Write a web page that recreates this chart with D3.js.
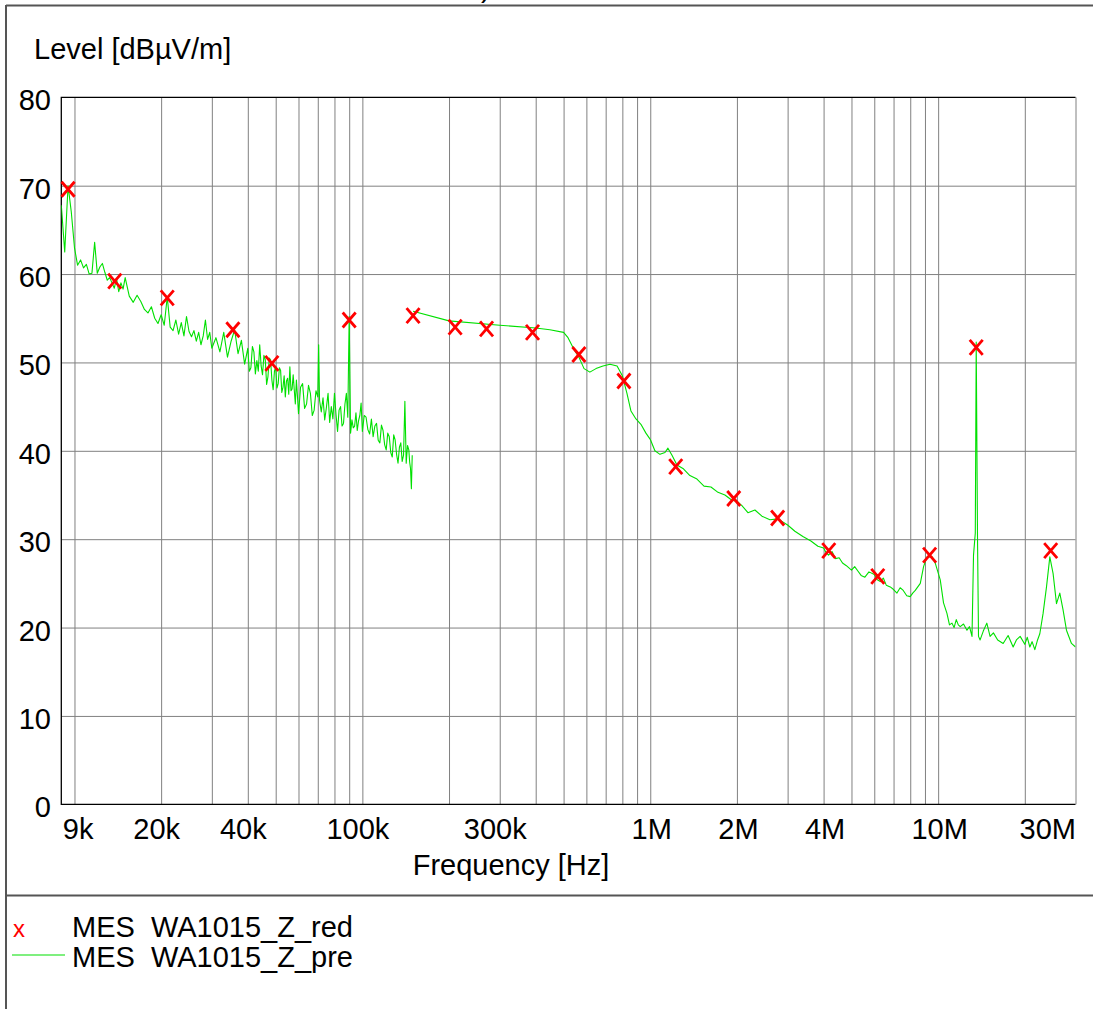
<!DOCTYPE html>
<html lang="en">
<head>
<meta charset="utf-8">
<title>Level vs Frequency</title>
<script src="https://d3js.org/d3.v7.min.js"></script>
<style>
  body { margin: 0; background: #fff; }
  svg text { font-family: Arial, "Liberation Sans", sans-serif; font-size: 29px; fill: #000; white-space: pre; }
</style>
</head>
<body>
<div id="chart"></div>
<script>
// ---- data (frequencies in kHz, levels in dBuV/m) ----
var preFreqA = [9, 9.25, 9.5, 9.75, 10, 10.25, 10.5, 10.75, 11, 11.25, 11.5, 11.75, 12, 12.25, 12.5, 12.75, 13, 13.25, 13.5, 13.75, 14, 14.25, 14.5, 14.75, 15,
  15.5, 16, 16.5, 17, 17.5, 18, 18.5, 19, 19.5, 20, 20.5, 21, 21.5, 22, 22.5, 23, 23.5, 24, 24.5, 25, 25.5, 26, 26.5, 27, 27.5, 28, 28.5, 29, 29.5, 30,
  31, 32, 33, 34, 35, 36, 37, 38, 39,
  40, 40.5, 41, 41.5, 42, 42.5, 43, 43.5, 44, 44.5, 45, 45.5, 46, 46.5, 47, 47.5, 48, 48.5, 49, 49.5,
  50, 50.5, 51, 51.5, 52, 52.5, 53, 53.5, 54, 54.5, 55, 55.5, 56, 56.5, 57, 57.5, 58, 58.5, 59, 59.5,
  60, 61, 62, 63, 64, 65, 66, 67, 68, 69, 70, 70.5, 71, 72, 73, 74, 75, 76, 77, 78, 79, 80,
  81, 82, 83, 84, 85, 86, 87, 88, 89, 90, 91, 92, 93, 94, 95, 96, 97, 98, 99, 100,
  101.5, 103, 104.5, 106, 107.5, 109, 110.5, 112, 113.5, 115, 116.5, 118, 119.5, 121, 122.5, 124, 125.5, 127, 128.5, 130,
  131.5, 133, 134.5, 136, 137.5, 139, 140.5, 142, 143.5, 145, 146, 147, 148, 149];
var preLevelA = [67.8, 62.5, 70.0, 67.0, 63.0, 61.0, 61.6, 60.7, 61.1, 60.0, 60.1, 63.6, 60.1, 60.8, 61.2, 60.2, 59.3, 59.6, 59.0, 58.4, 59.5, 58.0, 59.0, 58.3, 59.6,
  57.5, 56.8, 57.6, 56.9, 56.0, 55.6, 56.3, 55.0, 54.4, 55.4, 54.2, 57.4, 54.0, 53.6, 54.8, 53.2, 54.5, 53.0, 55.2, 53.5, 52.9, 53.6, 52.4, 53.4, 52.0, 53.0, 54.8, 52.6, 53.4, 51.6,
  52.8, 51.2, 53.4, 50.6, 52.4, 53.7, 51.0, 52.5, 49.8,
  51.6, 49.0, 49.4, 51.8, 51.2, 48.7, 50.2, 49.0, 52.0, 49.6, 48.6, 50.8, 50.3, 47.5, 48.4, 50.5, 50.3, 48.0, 46.9, 49.0,
  49.5, 47.1, 47.6, 49.4, 49.1, 46.6, 47.2, 48.5, 46.1, 47.9, 48.2, 46.4, 49.5, 46.8, 47.0, 48.6, 46.9, 45.3, 48.0, 46.2,
  44.2, 47.2, 47.6, 44.8, 45.3, 47.4, 46.5, 44.0, 44.6, 46.8, 46.1, 52.0, 45.7, 44.4, 46.0, 43.5, 44.9, 46.5, 43.2, 45.0, 43.6, 46.5,
  44.1, 42.2, 44.6, 45.0, 42.8, 43.1, 45.3, 46.5, 43.8, 55.2, 42.0, 43.5, 42.6, 42.8, 44.3, 42.3, 43.4, 44.0, 45.4, 42.2,
  44.0, 43.8, 42.4, 41.9, 43.6, 41.6, 42.8, 43.1, 41.2, 40.9, 42.9, 42.3, 40.7, 40.1, 42.0, 41.6, 39.8, 39.3, 41.8, 41.2,
  39.6, 38.6, 40.4, 40.9, 38.8, 39.5, 45.6, 38.6, 40.6, 40.1, 38.7, 38.0, 35.7, 39.5];

var preFreqB = [150, 200, 300, 400, 448, 500, 518, 543, 565, 589, 617, 648, 685, 725, 767, 800, 830, 857, 892, 928, 966,
  1000, 1038, 1081, 1125, 1152, 1190, 1238, 1299, 1373, 1453, 1537, 1625, 1719, 1817, 1922,
  2000, 2082, 2184, 2310, 2443, 2604, 2776, 3000, 3180, 3390, 3614, 3823,
  4000, 4080, 4160, 4280, 4400, 4530, 4654, 4800, 5000, 5130, 5262, 5400, 5566, 5750, 6000, 6150, 6295, 6450, 6603, 6820, 7000, 7194, 7380, 7565, 7780, 8000, 8160, 8327, 8670, 8900, 9146, 9520, 9772,
  10170, 10440, 10730, 10950, 11170, 11360, 11560, 11750, 11930, 12250, 12590, 12850, 13110, 13270, 13460, 13560, 13700, 13810, 13990,
  14350, 14760, 15150, 15560, 16100, 16820, 17500, 18220, 18700, 19270, 20000, 20400, 20820, 21200, 21670, 22100, 22550,
  23150, 23790, 24430, 25080, 25770, 26460, 27160, 27910, 29050, 30000];
var preLevelB = [55.8, 54.7, 54.2, 53.9, 53.7, 53.4, 52.8, 51.5, 50.6, 49.3, 48.9, 49.3, 49.6, 49.8, 49.6, 48.5, 46.5, 44.5, 43.6, 43.0, 42.0,
  41.3, 40.0, 39.6, 39.8, 40.3, 39.5, 38.4, 38.0, 37.2, 36.8, 36.0, 35.9, 35.3, 35.0, 34.4,
  34.3, 33.8, 33.0, 33.3, 32.6, 32.2, 32.3, 31.6, 30.9, 30.3, 29.8, 29.2,
  29.0, 28.5, 28.2, 28.6, 27.8, 27.9, 27.3, 27.0, 26.5, 26.9, 26.4, 25.9, 25.7, 26.3, 26.0, 25.4, 25.2, 25.6, 24.8, 24.6, 24.3, 23.9, 24.5, 24.2, 23.6, 23.5, 23.9, 24.2, 25.0, 26.9, 28.0, 28.0, 27.3,
  25.4, 22.8, 21.6, 20.3, 20.5, 20.0, 20.9, 20.3, 20.1, 20.4, 19.7, 20.1, 19.0, 28.2, 30.7, 52.3, 30.3, 19.0, 18.6,
  19.6, 20.5, 19.0, 19.4, 18.6, 18.2, 19.1, 17.8, 18.6, 19.0, 18.1, 18.9, 17.8, 18.4, 17.5, 18.5, 19.3,
  21.6, 24.6, 28.0, 26.1, 22.7, 23.9, 22.0, 19.7, 18.2, 17.8];

var redFreq = [9.5, 13.8, 21, 35.5, 48.5, 90, 150, 210, 270, 390, 565, 810, 1226, 1950, 2770, 4170, 6170, 9340, 13560, 24600];
var redLevel = [69.6, 59.2, 57.3, 53.7, 49.9, 54.8, 55.3, 54.0, 53.8, 53.4, 50.9, 47.9, 38.2, 34.6, 32.4, 28.7, 25.8, 28.2, 51.7, 28.7];

var xTickValues = [9, 20, 40, 100, 300, 1000, 2000, 4000, 10000, 30000];
var xTickLabels = ["9k", "20k", "40k", "100k", "300k", "1M", "2M", "4M", "10M", "30M"];
var yTickValues = [0, 10, 20, 30, 40, 50, 60, 70, 80];

var legendNames = ["MES  WA1015_Z_red", "MES  WA1015_Z_pre"];

// ---- layout ----
var W = 1093, H = 1009;
var plot = {left: 61.3, right: 1075.5, top: 97.3, bottom: 804.3};
var green = "#00e000", red = "#ff0000";

var svg = d3.select("#chart").append("svg")
    .attr("width", W).attr("height", H);

var x = d3.scaleLog().domain([9, 30000]).range([plot.left, plot.right]);
var y = d3.scaleLinear().domain([0, 80]).range([plot.bottom, plot.top]);

// outer frame
svg.append("line").attr("x1", 6).attr("x2", 6).attr("y1", 5).attr("y2", H)
    .attr("stroke", "#555").attr("stroke-width", 2);
svg.append("line").attr("x1", 6).attr("x2", W).attr("y1", 5.5).attr("y2", 5.5)
    .attr("stroke", "#555").attr("stroke-width", 2);
svg.append("line").attr("x1", 6).attr("x2", W).attr("y1", 895.5).attr("y2", 895.5)
    .attr("stroke", "#555").attr("stroke-width", 2);
svg.append("text").attr("x", 481).attr("y", -3).text(")");

// grid
var gridX = [10, 100, 1000, 10000].flatMap(function(d) {
  return d3.range(1, 10).map(function(k) { return k * d; });
}).filter(function(v) { return v <= 30000; });

svg.append("g")
    .attr("transform", "translate(0," + plot.bottom + ")")
    .call(d3.axisBottom(x).tickValues(gridX).tickSize(-(plot.bottom - plot.top)).tickFormat(""))
    .call(function(g) { g.select(".domain").remove(); })
    .selectAll("line").attr("stroke", "#808080");

svg.append("g")
    .attr("transform", "translate(" + plot.left + ",0)")
    .call(d3.axisLeft(y).tickValues(yTickValues.slice(1, -1)).tickSize(-(plot.right - plot.left)).tickFormat(""))
    .call(function(g) { g.select(".domain").remove(); })
    .selectAll("line").attr("stroke", "#808080");

// plot frame (top, left, bottom in black)
svg.append("path")
    .attr("d", "M" + plot.right + "," + plot.top + "H" + plot.left + "V" + plot.bottom + "H" + plot.right)
    .attr("fill", "none").attr("stroke", "#000").attr("stroke-width", 1.3);

// axis labels
var xAxis = svg.append("g")
    .attr("transform", "translate(0," + plot.bottom + ")")
    .call(d3.axisBottom(x).tickValues(xTickValues)
      .tickFormat(function(d, i) { return xTickLabels[i]; }).tickSize(0));
xAxis.select(".domain").remove();
xAxis.selectAll("text")
    .attr("y", 35).attr("dy", null)
    .each(function(d, i) {
      var t = d3.select(this);
      var w = this.getComputedTextLength();
      var cx = x(d) + (xTickLabels[i].indexOf("k") > 0 ? -5 : 1);
      if (cx - w / 2 < plot.left + 1) cx = plot.left + 1 + w / 2;
      if (cx + w / 2 > plot.right) cx = plot.right - w / 2;
      t.attr("x", cx - x(d));
    });

var yAxis = svg.append("g")
    .attr("transform", "translate(" + plot.left + ",0)")
    .call(d3.axisLeft(y).tickValues(yTickValues).tickSize(0));
yAxis.select(".domain").remove();
yAxis.selectAll("text").attr("x", 51 - plot.left).attr("dy", null).attr("y", 12.5);

svg.append("text").attr("x", 34).attr("y", 59).text("Level [dB\u00b5V/m]");
svg.append("text").attr("x", 511).attr("y", 875).attr("text-anchor", "middle").text("Frequency [Hz]");

// traces
svg.append("clipPath").attr("id", "clip")
  .append("rect").attr("x", plot.left).attr("y", plot.top)
  .attr("width", plot.right - plot.left).attr("height", plot.bottom - plot.top);

var line = d3.line()
    .x(function(d) { return x(d[0]); })
    .y(function(d) { return y(d[1]); });

[[preFreqA, preLevelA], [preFreqB, preLevelB]].forEach(function(s) {
  svg.append("path")
      .datum(d3.zip(s[0], s[1]))
      .attr("clip-path", "url(#clip)")
      .attr("fill", "none")
      .attr("stroke", green)
      .attr("stroke-width", 1.1)
      .attr("stroke-linejoin", "round")
      .attr("d", line);
});

// red markers
svg.append("g").selectAll("path")
    .data(d3.zip(redFreq, redLevel))
    .join("path")
    .attr("transform", function(d) { return "translate(" + x(d[0]) + "," + y(d[1]) + ")"; })
    .attr("d", "M-6.5,-7.5L6.5,7.5M6.5,-7.5L-6.5,7.5")
    .attr("stroke", red).attr("stroke-width", 2.8).attr("fill", "none");

// legend
svg.append("text").attr("x", 13).attr("y", 937).style("font-size", "24px").style("fill", red).text("x");
svg.append("line").attr("x1", 12).attr("x2", 65).attr("y1", 955).attr("y2", 955)
    .attr("stroke", green).attr("stroke-width", 1.2);
svg.selectAll(".legend-label")
    .data(legendNames)
    .join("text")
    .attr("class", "legend-label")
    .attr("x", 72)
    .attr("y", function(d, i) { return 937 + i * 30; })
    .text(function(d) { return d; });
</script>
</body>
</html>
